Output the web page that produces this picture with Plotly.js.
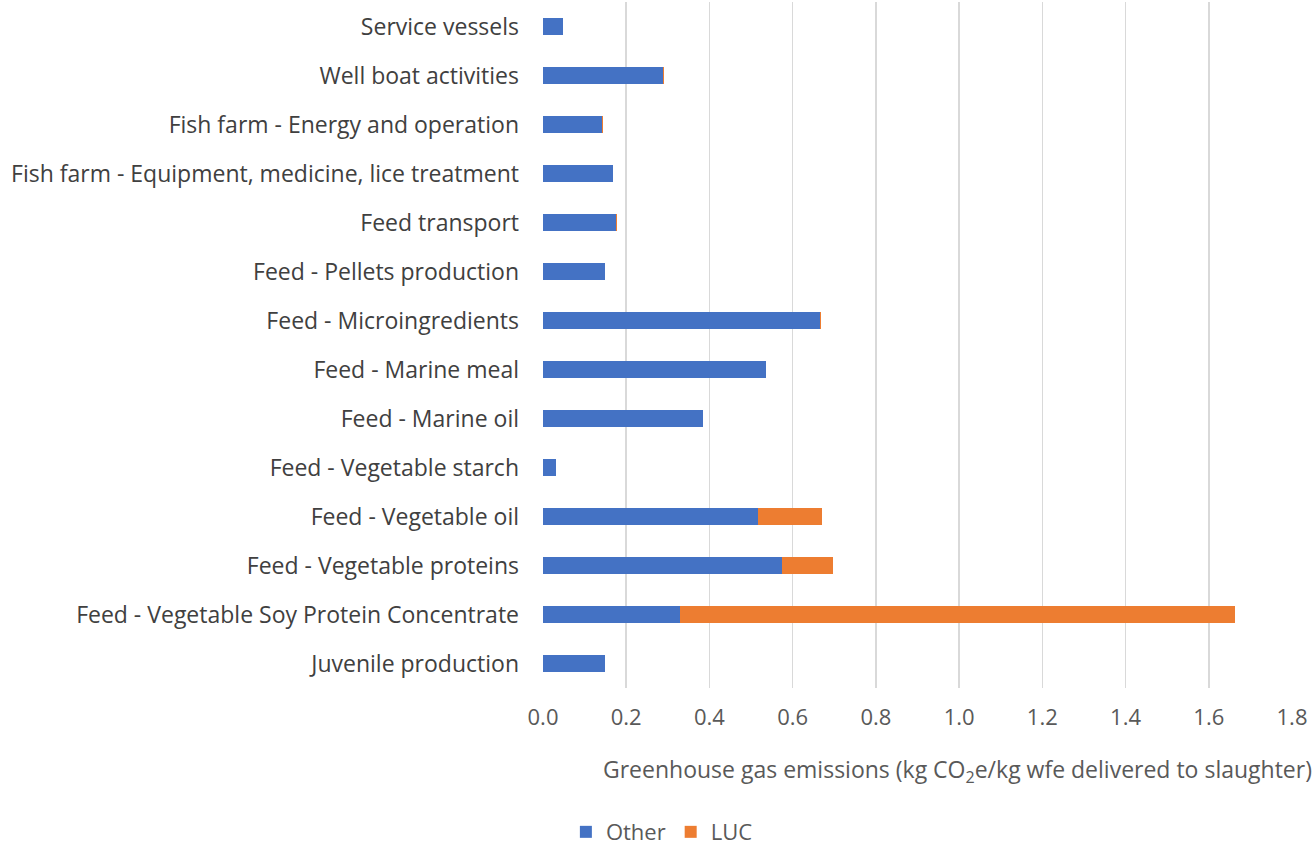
<!DOCTYPE html>
<html><head><meta charset="utf-8">
<script src="https://cdn.plot.ly/plotly-3.0.1.min.js"></script>
<style>html,body{margin:0;padding:0;background:#fff}</style>
</head><body>
<div id="chart" style="width:1316px;height:846px"></div>
<script>
const categories = [
  "Juvenile production",
  "Feed - Vegetable Soy Protein Concentrate",
  "Feed - Vegetable proteins",
  "Feed - Vegetable oil",
  "Feed - Vegetable starch",
  "Feed - Marine oil",
  "Feed - Marine meal",
  "Feed - Microingredients",
  "Feed - Pellets production",
  "Feed transport",
  "Fish farm - Equipment, medicine, lice treatment",
  "Fish farm - Energy and operation",
  "Well boat activities",
  "Service vessels"
];
const otherValues = [0.149, 0.329, 0.575, 0.517, 0.031, 0.385, 0.536, 0.666, 0.149, 0.175, 0.168, 0.142, 0.288, 0.048];
const lucValues   = [0.001, 1.334, 0.122, 0.154, 0.000, 0.000, 0.001, 0.001, 0.001, 0.002, 0.001, 0.001, 0.002, 0.001];
const xTicks = [0, 0.2, 0.4, 0.6, 0.8, 1.0, 1.2, 1.4, 1.6, 1.8];

const font = "Open Sans, Noto Sans, sans-serif";
const data = [
  {type:"bar", orientation:"h", name:"Other", y:categories, x:otherValues,
   marker:{color:"#4472C4"}, hoverinfo:"x+y"},
  {type:"bar", orientation:"h", name:"LUC", y:categories, x:lucValues,
   marker:{color:"#ED7D31"}, hoverinfo:"x+y"}
];
const layout = {
  width:1316, height:846,
  margin:{l:543, r:24, t:2, b:158, autoexpand:false},
  barmode:"stack", bargap:0.65,
  paper_bgcolor:"#fff", plot_bgcolor:"#fff",
  font:{family:font, color:"#595959", size:23},
  xaxis:{range:[0,1.8], tickvals:xTicks, ticktext:xTicks.map(v=>v.toFixed(1)),
    showgrid:true, gridcolor:"#d9d9d9", gridwidth:1.5, zeroline:false,
    showline:false, ticks:"", tickfont:{size:22, color:"#595959"}, ticklabelstandoff:14, fixedrange:true},
  yaxis:{automargin:false, showgrid:false, zeroline:false, showline:false, ticks:"",
    tickfont:{size:23, color:"#404040"}, ticklabelstandoff:23, fixedrange:true},
  showlegend:true,
  legend:{orientation:"h", xref:"container", yref:"container", x:0.430, xanchor:"left", y:0.0165, yanchor:"middle",
    font:{size:22, color:"#595959"}, traceorder:"normal", itemwidth:30},
  annotations:[{xref:"paper", yref:"paper", x:1.03, xanchor:"right", y:-0.12, yanchor:"middle",
    showarrow:false, text:"Greenhouse gas emissions (kg CO<sub>2</sub>e/kg wfe delivered to slaughter)",
    font:{size:23, color:"#595959"}}]
};
Plotly.newPlot("chart", data, layout, {displayModeBar:false, staticPlot:true});
</script>
</body></html>
